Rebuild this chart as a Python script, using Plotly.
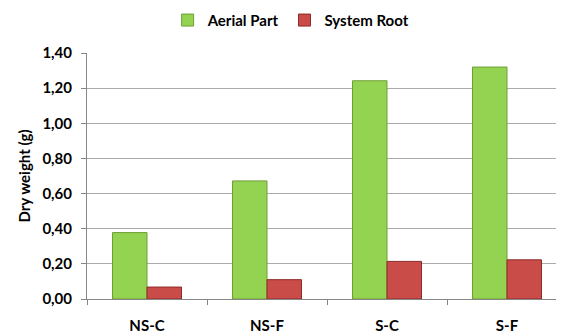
import plotly.graph_objects as go

categories = ["NS-C", "NS-F", "S-C", "S-F"]
aerial_part = [0.378, 0.672, 1.242, 1.32]
system_root = [0.068, 0.11, 0.214, 0.223]
tick_vals = [0.0, 0.2, 0.4, 0.6, 0.8, 1.0, 1.2, 1.4]
tick_text = ["0,00", "0,20", "0,40", "0,60", "0,80", "1,00", "1,20", "1,40"]

FONT = "Lato"

fig = go.Figure()
fig.add_trace(go.Bar(
    x=categories, y=aerial_part, name="Aerial Part",
    marker=dict(color="#94D352", line=dict(color="#6E9E34", width=1)),
))
fig.add_trace(go.Bar(
    x=categories, y=system_root, name="System Root",
    marker=dict(color="#C94C48", line=dict(color="#8C2B28", width=1)),
))

fig.update_layout(
    width=564, height=333,
    margin=dict(l=79, r=5, t=45, b=42),
    paper_bgcolor="white", plot_bgcolor="white",
    barmode="group", bargap=0.425, bargroupgap=0,
    font=dict(family=FONT, size=14, color="#000000"),
    legend=dict(
        orientation="h", x=0.502, xref="container", xanchor="center",
        y=0.963, yref="container", yanchor="middle",
        font=dict(family=FONT, size=15, color="#000000", weight="bold"),
        itemwidth=30, tracegroupgap=0,
    ),
    xaxis=dict(
        showline=True, linecolor="#868686", linewidth=1,
        ticks="outside", ticklen=5, tickcolor="#868686",
        tickson="boundaries", ticklabelstandoff=13,
        tickfont=dict(family=FONT, size=15, weight="bold"),
        showgrid=False,
    ),
    yaxis=dict(
        range=[0, 1.4], tickvals=tick_vals, ticktext=tick_text,
        showline=True, linecolor="#868686", linewidth=1,
        ticks="outside", ticklen=5, tickcolor="#868686",
        ticklabelstandoff=6,
        showgrid=True, gridcolor="#ABABAB", gridwidth=1,
        tickfont=dict(family=FONT, size=15, weight="bold"),
        title=dict(text="Dry weight (g)", font=dict(family=FONT, size=15, weight="bold"), standoff=8),
        zeroline=False,
    ),
)

fig.write_html("out.html")
